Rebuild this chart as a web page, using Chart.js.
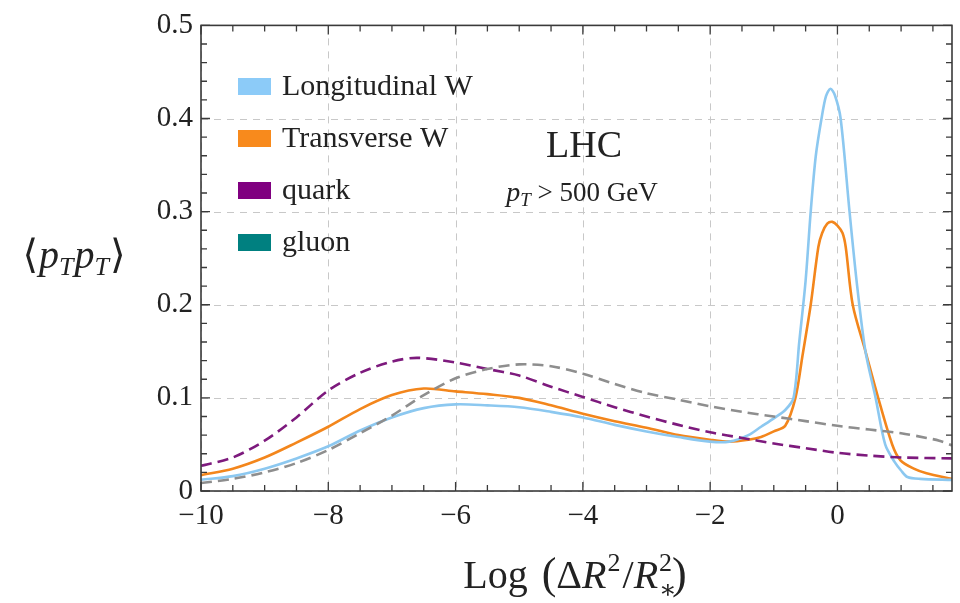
<!doctype html>
<html><head><meta charset="utf-8">
<script src="https://cdn.jsdelivr.net/npm/chart.js@4.4.1/dist/chart.umd.min.js"></script>
<style>
  body{margin:0;background:#fff}
  canvas{display:block}
</style></head>
<body>
<canvas id="c" width="960" height="603"></canvas>
<script>
// curve samples
const longX = [-10,-9.5,-9,-8.5,-8,-7.5,-7,-6.5,-6,-5.5,-5,-4.5,-4,-3.5,-3,-2.5,-2,-1.7,-1.4,-1.2,-1.0,-0.82,-0.69,-0.6,-0.5,-0.42,-0.34,-0.25,-0.18,-0.11,-0.04,0.05,0.19,0.31,0.44,0.6,0.75,0.9,1.0,1.1,1.3,1.8];
const longY = [0.012,0.016,0.024,0.035,0.048,0.065,0.079,0.089,0.093,0.092,0.090,0.085,0.079,0.071,0.064,0.058,0.053,0.053,0.060,0.069,0.078,0.087,0.10,0.16,0.226,0.30,0.36,0.40,0.424,0.432,0.425,0.40,0.30,0.22,0.15,0.10,0.05,0.031,0.022,0.015,0.013,0.012];

const transX = [-10,-9.5,-9,-8.5,-8,-7.5,-7,-6.5,-6,-5.5,-5,-4.5,-4,-3.5,-3,-2.5,-2,-1.7,-1.4,-1.2,-1.0,-0.82,-0.66,-0.55,-0.42,-0.30,-0.24,-0.16,-0.08,0.0,0.08,0.13,0.24,0.44,0.64,0.86,0.99,1.2,1.4,1.8];
const transY = [0.017,0.024,0.036,0.052,0.069,0.088,0.103,0.110,0.107,0.104,0.100,0.092,0.083,0.075,0.068,0.060,0.055,0.053,0.055,0.058,0.064,0.070,0.10,0.145,0.20,0.262,0.277,0.287,0.289,0.285,0.277,0.262,0.20,0.15,0.10,0.05,0.033,0.024,0.019,0.013];

const quarkX = [-10,-9.5,-9,-8.5,-8,-7.5,-7,-6.6,-6,-5.5,-5,-4.5,-4,-3.5,-3,-2.5,-2,-1.5,-1,-0.5,0,0.5,1,1.8];
const quarkY = [0.027,0.036,0.054,0.079,0.108,0.127,0.139,0.143,0.138,0.131,0.124,0.112,0.101,0.090,0.080,0.071,0.063,0.057,0.051,0.046,0.041,0.038,0.036,0.035];

const gluonX = [-10,-9.5,-9,-8.5,-8,-7.5,-7,-6.5,-6,-5.5,-5,-4.5,-4,-3.5,-3,-2.5,-2,-1.5,-1,-0.5,0,0.5,1,1.4,1.6,1.8];
const gluonY = [0.0085,0.013,0.020,0.030,0.044,0.062,0.081,0.103,0.121,0.131,0.136,0.134,0.126,0.115,0.105,0.098,0.091,0.085,0.080,0.075,0.070,0.066,0.062,0.057,0.054,0.049];

const xTicks = [-10,-8,-6,-4,-2,0];
const yTicks = [0,0.1,0.2,0.3,0.4,0.5];
const legendNames = ["Longitudinal W","Transverse W","quark","gluon"];
const legendColors = ["#8ccbf8","#f88a1c","#800080","#008080"];

const SERIF = '"Liberation Serif", "DejaVu Serif", serif';
const pts = (xs, ys) => xs.map((x, i) => ({x, y: ys[i]}));
const minus = v => String(v).replace("-", "\u2212");

// draw a run of text pieces (italic / sub / sup) centred on cx
function rich(ctx, cx, y, parts) {
  let w = 0;
  const widths = parts.map(p => { ctx.font = p.f; return ctx.measureText(p.t).width + (p.gap || 0); });
  parts.forEach((p, i) => { if (!p.stack) w += widths[i]; });
  let x = cx - w / 2, last = x;
  ctx.textBaseline = "alphabetic";
  ctx.textAlign = "left";
  parts.forEach((p, i) => {
    ctx.font = p.f;
    const px = p.stack ? last : x;
    ctx.fillText(p.t, px, y + (p.dy || 0));
    if (!p.stack) { last = x; x += widths[i]; }
  });
}

const frame = {
  id: "frame",
  beforeDatasetsDraw(chart) {
    const {ctx, chartArea: a, scales: {x, y}} = chart;
    ctx.save();
    ctx.strokeStyle = "#c8c8c8";
    ctx.lineWidth = 1;
    ctx.setLineDash([7, 6]);
    xTicks.forEach(v => {
      const px = Math.round(x.getPixelForValue(v)) + 0.5;
      ctx.beginPath(); ctx.moveTo(px, a.top); ctx.lineTo(px, a.bottom); ctx.stroke();
    });
    yTicks.forEach(v => {
      const py = Math.round(y.getPixelForValue(v)) + 0.5;
      ctx.beginPath(); ctx.moveTo(a.left, py); ctx.lineTo(a.right, py); ctx.stroke();
    });
    ctx.restore();
  },
  afterDatasetsDraw(chart) {
    const {ctx, chartArea: a, scales: {x, y}} = chart;
    ctx.save();
    ctx.strokeStyle = "#3a3a3a";
    ctx.lineWidth = 1.3;
    // inward ticks on all four sides
    for (let v = -10; v <= 1.8001; v += 0.5) {
      const px = x.getPixelForValue(v);
      const len = xTicks.includes(Math.round(v * 10) / 10) ? 9 : 6;
      ctx.beginPath();
      ctx.moveTo(px, a.bottom); ctx.lineTo(px, a.bottom - len);
      ctx.moveTo(px, a.top); ctx.lineTo(px, a.top + len);
      ctx.stroke();
    }
    for (let i = 0; i <= 25; i++) {
      const py = y.getPixelForValue(i * 0.02);
      const len = i % 5 === 0 ? 9 : 6;
      ctx.beginPath();
      ctx.moveTo(a.left, py); ctx.lineTo(a.left + len, py);
      ctx.moveTo(a.right, py); ctx.lineTo(a.right - len, py);
      ctx.stroke();
    }
    ctx.lineWidth = 1.6;
    ctx.strokeRect(a.left, a.top, a.right - a.left, a.bottom - a.top);

    // legend
    ctx.textBaseline = "middle";
    ctx.textAlign = "left";
    legendNames.forEach((n, i) => {
      const cy = 86 + i * 52;
      ctx.fillStyle = legendColors[i];
      ctx.fillRect(238, cy - 8, 33, 17);
      ctx.fillStyle = "#222";
      ctx.font = "30px " + SERIF;
      ctx.fillText(n, 282, cy + 1);
    });

    ctx.fillStyle = "#222";
    ctx.textAlign = "center";
    ctx.textBaseline = "alphabetic";
    ctx.font = "38px " + SERIF;
    ctx.fillText("LHC", 584, 157);
    rich(ctx, 582, 201, [
      {t: "p", f: "italic 28px " + SERIF},
      {t: "T", f: "italic 19px " + SERIF, dy: 5},
      {t: " > 500 GeV", f: "27px " + SERIF}
    ]);

    // axis titles
    rich(ctx, 74, 268, [
      {t: "\u27E8", f: "40px " + SERIF, gap: 1},
      {t: "p", f: "italic 40px " + SERIF},
      {t: "T", f: "italic 26px " + SERIF, dy: 7, gap: 1},
      {t: "p", f: "italic 40px " + SERIF},
      {t: "T", f: "italic 26px " + SERIF, dy: 7, gap: 1},
      {t: "\u27E9", f: "40px " + SERIF}
    ]);
    rich(ctx, 575, 588, [
      {t: "Log ", f: "40px " + SERIF, gap: 4},
      {t: "(", f: "44px " + SERIF},
      {t: "\u0394", f: "40px " + SERIF},
      {t: "R", f: "italic 40px " + SERIF, gap: 1},
      {t: "2", f: "26px " + SERIF, dy: -17, gap: 2},
      {t: "/", f: "40px " + SERIF},
      {t: "R", f: "italic 40px " + SERIF, gap: 1},
      {t: "2", f: "26px " + SERIF, dy: -17},
      {t: "\u2217", f: "26px " + SERIF, dy: 10, stack: true},
      {t: ")", f: "44px " + SERIF}
    ]);
    ctx.restore();
  }
};

const line = (data, color, dash) => ({
  data, borderColor: color, borderWidth: 2.6, pointRadius: 0,
  borderDash: dash || [], tension: 0.3, fill: false
});

new Chart(document.getElementById("c"), {
  type: "line",
  data: {
    datasets: [
      line(pts(gluonX, gluonY), "#8e8e8e", [11, 6]),
      line(pts(quarkX, quarkY), "#7d1a7d", [11, 6]),
      line(pts(longX, longY), "#8cc8f0"),
      line(pts(transX, transY), "#f3861c")
    ]
  },
  options: {
    responsive: false,
    animation: false,
    layout: {padding: {top: 25, right: 8, left: 0, bottom: 0}},
    plugins: {legend: {display: false}, tooltip: {enabled: false}},
    scales: {
      x: {
        type: "linear", min: -10, max: 1.8,
        grid: {display: false, drawTicks: false},
        border: {display: false},
        afterBuildTicks: s => { s.ticks = xTicks.map(v => ({value: v})); },
        afterFit: s => { s.height = 112; },
        ticks: {color: "#222", padding: 8, font: {family: SERIF, size: 29}, callback: v => minus(v)}
      },
      y: {
        type: "linear", min: 0, max: 0.5,
        grid: {display: false, drawTicks: false},
        border: {display: false},
        afterBuildTicks: s => { s.ticks = yTicks.map(v => ({value: v})); },
        afterFit: s => { s.width = 201; },
        ticks: {color: "#222", padding: 8, font: {family: SERIF, size: 29}, callback: v => String(v)}
      }
    }
  },
  plugins: [frame]
});
</script>
</body></html>
